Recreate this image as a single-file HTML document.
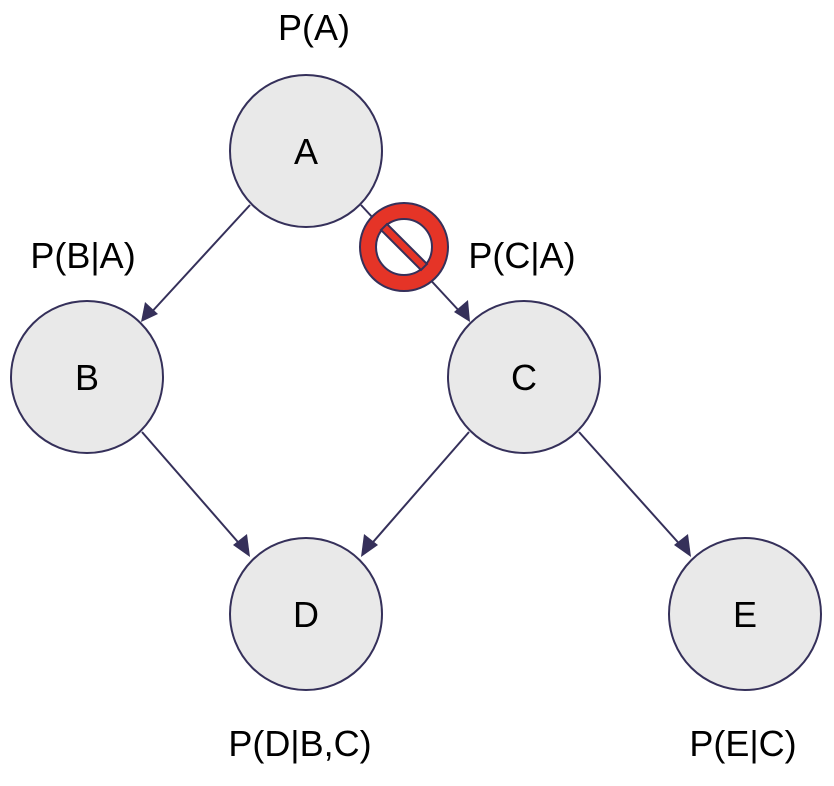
<!DOCTYPE html>
<html><head><meta charset="utf-8"><style>
html,body{margin:0;padding:0;background:#fff;}
svg{display:block;}
text{font-family:"Liberation Sans",sans-serif;font-size:36px;fill:#000;}
</style></head><body>
<svg width="834" height="786" viewBox="0 0 834 786" xmlns="http://www.w3.org/2000/svg">
<defs>
<marker id="ah" markerWidth="10" markerHeight="10" refX="9" refY="5" orient="auto" markerUnits="userSpaceOnUse" viewBox="0 0 10 10">
</marker>
</defs>
<g stroke="#35305a" stroke-width="2" fill="none">
<line x1="250" y1="205" x2="148" y2="316"/>
<line x1="361" y1="205" x2="462" y2="314"/>
<line x1="142" y1="432" x2="244" y2="549"/>
<line x1="469" y1="432" x2="367" y2="549"/>
<line x1="579" y1="432" x2="684" y2="549"/>
</g>
<g fill="#35305a">
<polygon points="141,322 145,302 158,314"/>
<polygon points="470,322 454,312 468,300"/>
<polygon points="250,557 233,545 247,534"/>
<polygon points="361,557 364,534 378,545"/>
<polygon points="691,557 674,545 688,534"/>
</g>
<g fill="#e9e9e9" stroke="#35305a" stroke-width="2">
<circle cx="306" cy="151" r="76"/>
<circle cx="87" cy="377" r="76"/>
<circle cx="524" cy="377" r="76"/>
<circle cx="306" cy="614" r="76"/>
<circle cx="745" cy="614" r="76"/>
</g>
<g>
<circle cx="404" cy="247" r="44" fill="#e53427" stroke="#35305a" stroke-width="2"/>
<circle cx="404" cy="247" r="28" fill="#fff" stroke="#35305a" stroke-width="2"/>
<polygon points="381,230 387,224 427,264 421,270" fill="#e53427" stroke="#35305a" stroke-width="2"/>
</g>
<g text-anchor="middle">
<text x="306" y="164">A</text>
<text x="87" y="390">B</text>
<text x="524" y="390">C</text>
<text x="306" y="627">D</text>
<text x="745" y="627">E</text>
<text x="314" y="40">P(A)</text>
<text x="83" y="268">P(B|A)</text>
<text x="522" y="268">P(C|A)</text>
<text x="300" y="756">P(D|B,C)</text>
<text x="743" y="756">P(E|C)</text>
</g>
</svg>
</body></html>
